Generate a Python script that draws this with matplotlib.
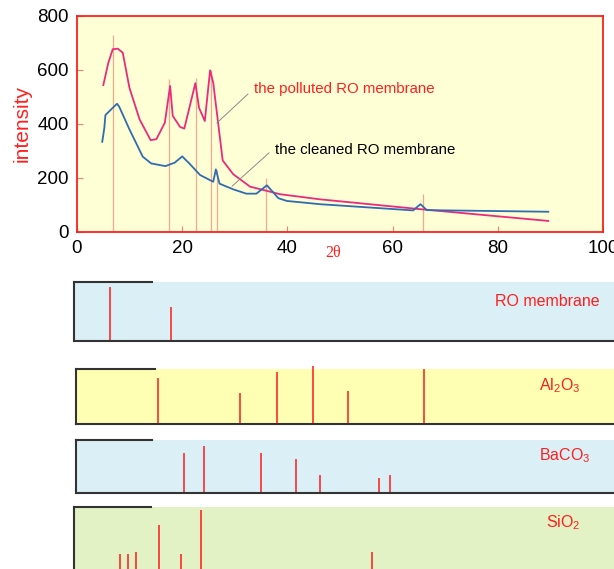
import matplotlib
matplotlib.use("Agg")
import matplotlib.pyplot as plt

plt.rcParams['font.family'] = ['Liberation Sans', 'DejaVu Sans']
plt.rcParams['mathtext.default'] = 'regular'

# ---------------- data ----------------
polluted_x = [5.0, 5.96, 6.8, 7.76, 8.7, 9.97, 11.9, 14.0, 15.1, 16.7, 17.7, 18.2, 19.6, 20.4,
              22.5, 23.2, 24.3, 25.3, 25.9, 26.2, 27.7, 29.7, 32.9, 38.6, 46.2, 65.0, 89.6]
polluted_y = [544, 627, 677, 679, 664, 534, 417, 340, 344, 405, 541, 430, 389, 383,
              551, 460, 411, 599, 553, 504, 265, 214, 168, 140, 121, 85, 41]

cleaned_x = [4.8, 5.2, 5.4, 6.8, 7.6, 8.0, 9.97, 12.5, 14.1, 16.8, 18.6, 20.0, 21.4, 23.4,
             25.9, 26.4, 27.1, 29.7, 32.2, 34.1, 36.1, 38.3, 39.9, 46.2, 63.9, 65.3, 66.5, 89.6]
cleaned_y = [334, 386, 433, 460, 475, 465, 380, 279, 254, 244, 257, 280, 253, 211,
             186, 232, 179, 158, 142, 142, 173, 125, 115, 103, 80, 103, 81, 75]

peak_x = [6.8, 17.4, 22.6, 25.5, 26.6, 36.0, 65.7]
peak_top = [730, 565, 570, 600, 230, 200, 140]

x_ticks = [0, 20, 40, 60, 80, 100]
y_ticks = [0, 200, 400, 600, 800]

ro_x = [6.2, 17.8]
ro_h = [92, 58]
al_x = [15.4, 31.0, 38.1, 44.8, 51.5, 66.0]
al_h = [85, 57, 96, 106, 61, 101]
ba_x = [20.4, 24.1, 34.9, 41.6, 46.2, 57.4, 59.6]
ba_h = [75, 89, 75, 65, 34, 29, 34]
si_x = [8.2, 9.7, 11.3, 15.6, 19.7, 23.6, 56.0]
si_h = [33, 33, 36, 74, 33, 96, 36]

# ---------------- figure ----------------
W, H = 614, 569
fig = plt.figure(figsize=(W / 100, H / 100), dpi=100)

def px_rect(left, top, right, bottom):
    return [left / W, 1 - bottom / H, (right - left) / W, (bottom - top) / H]

RED = '#ff1f1f'
ax = fig.add_axes(px_rect(77, 16, 603, 232))
ax.set_facecolor('#ffffd6')
for s in ax.spines.values():
    s.set_color(RED)
    s.set_linewidth(1.3)
ax.set_xlim(0, 100)
ax.set_ylim(0, 800)
ax.set_xticks(x_ticks)
ax.set_yticks(y_ticks)
ax.tick_params(direction='in', length=4, color='#f08080', labelsize=13.5, pad=6)

ax.vlines(peak_x, 0, peak_top, color='#f6a88f', lw=0.9, zorder=1)
ax.plot(polluted_x, polluted_y, color='#ec2a7d', lw=1.3, zorder=3)
ax.plot(cleaned_x, cleaned_y, color='#2f6cb0', lw=1.3, zorder=3)

ax.plot([32.5, 26.6], [511, 404], color='#8a8a8a', lw=0.7, zorder=4)
ax.plot([36.5, 29.5], [293, 170], color='#8a8a8a', lw=0.7, zorder=4)
ax.text(33.6, 530, 'the polluted RO membrane', color=RED, fontsize=10.8, va='center', ha='left')
ax.text(37.7, 304, 'the cleaned RO membrane', color='black', fontsize=10.8, va='center', ha='left')

ax.set_ylabel('intensity', color=RED, fontsize=15, labelpad=4)
fig.text(333 / W, 1 - 253 / H, '2θ', color=RED, fontsize=11.5, family='Liberation Serif',
         ha='center', va='center')

# ---------------- reference panels ----------------
def panel(left, top, bottom, color, xs, hs, label, lx, ly, short_end, show_bottom=True):
    right = W + 10
    pa = fig.add_axes(px_rect(left, top, right, bottom))
    pa.set_facecolor(color)
    x0 = (left - 77) / 5.26
    x1 = (right - 77) / 5.26
    pa.set_xlim(x0, x1)
    pa.set_ylim(0, 100)
    pa.set_xticks([])
    pa.set_yticks([])
    pa.spines['top'].set_visible(False)
    pa.spines['right'].set_visible(False)
    pa.spines['bottom'].set_visible(show_bottom)
    for k in ('left', 'bottom'):
        pa.spines[k].set_color('#333333')
        pa.spines[k].set_linewidth(1.5)
    pa.axhline(100, xmin=0, xmax=(short_end - left) / (right - left), color='#333333',
               lw=1.5, clip_on=False)
    pa.vlines(xs, 0, hs, color='#ff2a2a', lw=1.2, clip_on=False)
    fig.text(lx / W, 1 - ly / H, label, color=RED, fontsize=11.5, ha='left', va='center')
    return pa

panel(74, 282, 340.5, '#daf0f6', ro_x, ro_h, 'RO membrane', 495, 301.7, 152)
panel(76, 369.3, 424.3, '#ffffb4', al_x, al_h, 'Al$_2$O$_3$', 539, 386, 155)
panel(76, 440, 493, '#daf0f6', ba_x, ba_h, 'BaCO$_3$', 539, 456, 152)
panel(74, 507, 577, '#e2f2c4', si_x, si_h, 'SiO$_2$', 546, 523, 151, show_bottom=False)

fig.savefig('out.png', dpi=100)
